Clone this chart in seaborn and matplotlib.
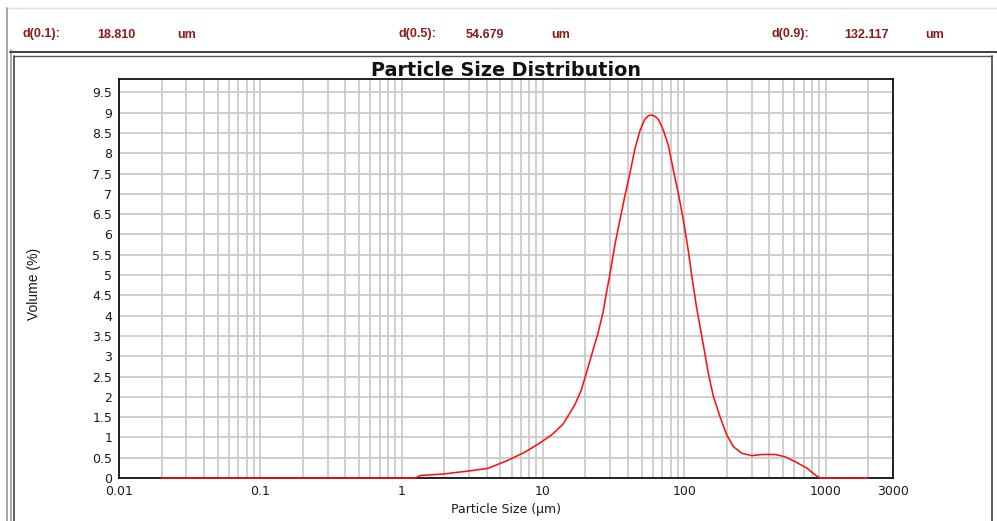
import numpy as np
import pandas as pd
import matplotlib
matplotlib.use("Agg")
import matplotlib.pyplot as plt
from matplotlib.ticker import FixedLocator, FuncFormatter, NullFormatter
from matplotlib.lines import Line2D
import seaborn as sns

# ---- data ----
sizes_um = [0.02, 1.25, 1.35, 2.0, 3.1, 4.1, 5.6, 7.3, 9.4, 11.5, 13.9, 16.8, 18.7,
            20.9, 22.6, 24.5, 26.7, 28.1, 29.7, 32.2, 35.0, 37.9, 41.2, 44.7, 48.5,
            52.6, 56.0, 59.4, 62.0, 65.5, 71.1, 77.1, 83.7, 90.8, 98.6, 107, 113,
            122, 133, 148, 161, 179, 200, 223, 255, 301, 354, 440, 519, 611, 740,
            848, 918, 2000]
volume_pct = [0, 0, 0.06, 0.10, 0.18, 0.24, 0.43, 0.62, 0.85, 1.06, 1.33, 1.80, 2.17,
              2.74, 3.15, 3.56, 4.10, 4.55, 5.00, 5.72, 6.35, 6.93, 7.50, 8.10, 8.55,
              8.84, 8.93, 8.94, 8.91, 8.84, 8.57, 8.20, 7.59, 7.01, 6.35, 5.58, 4.98,
              4.22, 3.50, 2.58, 2.00, 1.51, 1.06, 0.77, 0.61, 0.55, 0.58, 0.58, 0.52,
              0.40, 0.24, 0.07, 0, 0]
x_ticks = [0.01, 0.1, 1, 10, 100, 1000, 3000]
x_tick_labels = ["0.01", "0.1", "1", "10", "100", "1000", "3000"]
y_ticks = [0, 0.5, 1, 1.5, 2, 2.5, 3, 3.5, 4, 4.5, 5, 5.5, 6, 6.5, 7, 7.5, 8, 8.5, 9, 9.5]
d_labels = ["d(0.1):", "d(0.5):", "d(0.9):"]
d_values = ["18.810", "54.679", "132.117"]
d_unit = "um"

df = pd.DataFrame({"size": sizes_um, "volume": volume_pct})

sns.set_style("white")
plt.rcParams["font.family"] = ["DejaVu Sans"]

W, H = 997, 521
fig = plt.figure(figsize=(W / 100, H / 100), dpi=100)

def fx(px):
    return px / W

def fy(py):
    return 1 - py / H

ax = fig.add_axes([fx(119), fy(478), fx(893) - fx(119), fy(79) - fy(478)])

sns.lineplot(data=df, x="size", y="volume", ax=ax, color="#ff1010", linewidth=1.15,
             estimator=None, sort=False, zorder=4, clip_on=False)

ax.set_xscale("log")
ax.set_xlim(0.01, 3000)
ax.set_ylim(0, 9.83)

minor = [k * 10.0 ** e for e in range(-2, 4) for k in range(2, 10) if k * 10.0 ** e <= 2000]
ax.xaxis.set_major_locator(FixedLocator(x_ticks))
ax.xaxis.set_major_formatter(FuncFormatter(lambda v, p: x_tick_labels[x_ticks.index(v)] if v in x_ticks else ""))
ax.xaxis.set_minor_locator(FixedLocator(minor))
ax.xaxis.set_minor_formatter(NullFormatter())
ax.yaxis.set_major_locator(FixedLocator(y_ticks))
ax.yaxis.set_major_formatter(FuncFormatter(lambda v, p: f"{v:g}"))

ax.grid(True, which="both", axis="x", color="#cbcbcb", linewidth=1.3)
ax.grid(True, which="major", axis="y", color="#cbcbcb", linewidth=1.3)
ax.set_axisbelow(True)

ax.tick_params(axis="both", which="both", length=0, labelsize=9, colors="#1a1a1a")
ax.tick_params(axis="y", pad=5)
ax.tick_params(axis="x", pad=5)

for s in ax.spines.values():
    s.set_visible(True)
    s.set_color("#111111")
    s.set_linewidth(1.3)

ax.set_xlabel("Particle Size (µm)", fontsize=9, color="#1a1a1a", labelpad=4)
ax.set_ylabel("")
fig.text(fx(34), fy(284), "Volume (%)", rotation=90, ha="center", va="center",
         fontsize=10, family=["Liberation Sans"], color="#1a1a1a")

ax.set_title("Particle Size Distribution", fontsize=13.8, fontweight="bold",
             color="#111111", pad=2)

# header texts
text_color = "#8b1a1a"
label_x = [22.7, 398, 771]
value_x = [97, 466, 844]
unit_x = [177, 551, 925]
for i in range(3):
    for xpx, txt in ((label_x[i], d_labels[i]), (value_x[i], d_values[i]), (unit_x[i], d_unit)):
        fig.text(fx(xpx), fy(34.5), txt, ha="left", va="center", fontsize=9,
                 fontweight="bold", family=["Liberation Sans"], color=text_color)

# frame lines
def hline(y, x0, x1, color, lw):
    fig.add_artist(Line2D([fx(x0), fx(x1)], [fy(y), fy(y)], transform=fig.transFigure,
                          color=color, linewidth=lw))

def vline(x, y0, y1, color, lw):
    fig.add_artist(Line2D([fx(x), fx(x)], [fy(y0), fy(y1)], transform=fig.transFigure,
                          color=color, linewidth=lw))

hline(8, 5, 997, "#e0e0e0", 1.0)
vline(7, 8, 521, "#9a9a9a", 1.2)
vline(10.5, 50, 521, "#9a9a9a", 1.2)
hline(51.5, 10, 997, "#333333", 1.3)
hline(56, 14, 992, "#555555", 1.0)
vline(14, 56, 521, "#444444", 1.2)
vline(992, 56, 521, "#444444", 1.2)

fig.savefig("out.png", dpi=100)
